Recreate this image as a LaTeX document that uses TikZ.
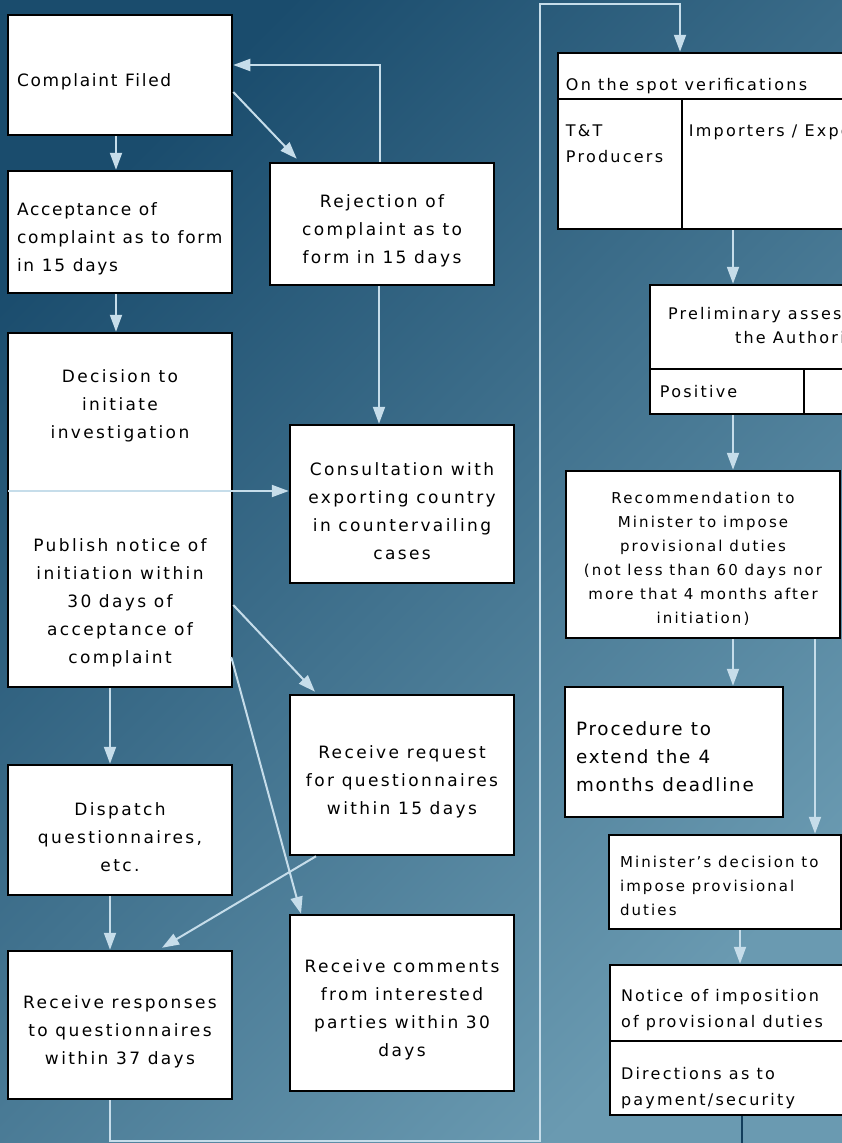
\documentclass[tikz,border=0pt]{standalone}
\usepackage{fontspec}
\setmainfont{DejaVu Sans}[LetterSpace=14]
\newfontfamily\plainfont{DejaVu Sans}[LetterSpace=10]
\usepackage{xcolor}
\usetikzlibrary{arrows.meta}
\definecolor{bgdark}{HTML}{1A4C6D}
\definecolor{bgmid}{HTML}{3D7292}
\definecolor{bglight}{HTML}{6A9AB1}
\definecolor{flow}{HTML}{C6DDEA}
\definecolor{navy}{HTML}{123E5C}
\newcommand{\bodysize}{\fontsize{17}{28}\selectfont}
\newcommand{\smallsize}{\fontsize{15}{24}\selectfont}
\newcommand{\cellsize}{\fontsize{16}{26}\selectfont}
\newcommand{\bigsize}{\plainfont\fontsize{18.3}{28}\selectfont}
\tikzset{sink/.style={execute at begin node={\spaceskip=.45em\relax\rule{0pt}{#1}}}, sink/.default=0pt}
\tikzstyle{box} = [rectangle, draw=black, line width=2.5pt, fill=white, inner xsep=10pt, inner ysep=0pt]
\tikzstyle{stepl} = [box, minimum width=224pt, inner xsep=9pt, text width=206pt, align=left, font=\plainfont\bodysize, sink=27pt]
\tikzstyle{stepc} = [box, minimum width=224pt, inner xsep=5pt, text width=214pt, align=center, font=\bodysize, sink=27pt]
\tikzstyle{cell} = [box, inner sep=0pt]
\tikzstyle{celltext} = [inner sep=0pt, text width=250pt, align=left, font=\cellsize, sink]
\tikzstyle{arrow} = [draw=flow, line width=2pt, -{Triangle[length=17pt,width=12pt]}]

\begin{document}
\begin{tikzpicture}[x=1pt, y=-1pt]
    \useasboundingbox (0,0) rectangle (841,1143);
    \clip (-3,-3) rectangle (844,1146);
    % Background
    \shade[top color=bgdark, middle color=bgmid, bottom color=bglight, shading angle=45] (-3,-3) rectangle (844,1146);

    % Left column
    \node (cf) [stepl, minimum height=120pt, sink=15pt] at (120,75) {Complaint Filed};
    \node (acc) [stepl, minimum height=122pt] at (120,232) {Acceptance of\\complaint as to form\\in 15 days};
    \node (inv) [box, minimum width=224pt, minimum height=354pt] at (120,510) {};
    \node (dec) [inner sep=0pt, text width=214pt, align=center, font=\bodysize, sink] at (120,406) {Decision to\\initiate\\investigation};
    \node (pub) [inner sep=0pt, text width=214pt, align=center, font=\bodysize, sink] at (120,603) {Publish notice of\\initiation within\\30 days of\\acceptance of\\complaint};
    \node (disp) [stepc, minimum height=130pt] at (120,830) {Dispatch\\questionnaires,\\etc.};
    \node (resp) [stepc, minimum height=148pt] at (120,1025) {Receive responses\\to questionnaires\\within 37 days};

    % Middle column
    \node (rej) [stepc, minimum height=122pt] at (382,224) {Rejection of\\complaint as to\\form in 15 days};
    \node (cons) [stepc, minimum height=158pt, sink=15pt] at (402,504) {Consultation with\\exporting country\\in countervailing\\cases};
    \node (req) [stepc, minimum height=160pt] at (402,775) {Receive request\\for questionnaires\\within 15 days};
    \node (com) [stepc, minimum height=176pt] at (402,1003) {Receive comments\\from interested\\parties within 30\\days};

    % Right column
    \node (spothead) [cell, minimum width=392pt, minimum height=46pt] at (754,76) {};
    \node (spottxt) [celltext, anchor=west] at ([xshift=9pt, yshift=-10pt]spothead.west) {On the spot verifications};
    \node (tt) [cell, minimum width=124pt, minimum height=130pt] at (620,164) {};
    \node (tttxt) [celltext, text width=110pt, anchor=north west] at ([xshift=9pt, yshift=-27pt]tt.north west) {T\&T\\Producers};
    \node (imp) [cell, minimum width=268pt, minimum height=130pt] at (816,164) {};
    \node (imptxt) [celltext, anchor=north west] at ([xshift=8pt, yshift=-27pt]imp.north west) {Importers / Exporters};

    \node (pre) [box, minimum width=300pt, minimum height=84pt, text width=290pt, inner xsep=5pt, align=center, font=\fontsize{16}{24}\selectfont, sink] at (800,327) {Preliminary assessment by\\the Authority};
    \node (pos) [cell, minimum width=154pt, minimum height=45pt] at (727,391.5) {};
    \node (postxt) [celltext, text width=130pt, anchor=west] at ([xshift=11pt]pos.west) {Positive};
    \node (neg) [cell, minimum width=146pt, minimum height=45pt] at (877,391.5) {};

    \node (rec) [box, minimum width=274pt, minimum height=167pt, inner xsep=5pt, text width=264pt, align=center, font=\smallsize, sink=19.5pt] at (703,554.5) {Recommendation to\\Minister to impose\\provisional duties\\(not less than 60 days nor\\more that 4 months after\\initiation)};
    \node (proc) [box, minimum width=216pt, minimum height=130pt, text width=196pt, inner xsep=11pt, align=left, font=\bigsize, sink=22.5pt] at (674,752) {Procedure to\\extend the 4\\months deadline};
    \node (mins) [box, minimum width=230pt, minimum height=94pt, text width=210pt, inner xsep=11pt, align=left, font=\smallsize, sink=19.5pt] at (725,882) {Minister's decision to\\impose provisional\\duties};
    \node (note) [box, minimum width=340pt, minimum height=76pt, text width=318pt, inner xsep=11pt, align=left, font=\cellsize, sink=26pt] at (780,1003) {Notice of imposition\\of provisional duties};
    \node (dir) [box, minimum width=340pt, minimum height=74pt, text width=318pt, inner xsep=11pt, align=left, font=\cellsize, sink=32pt] at (780,1078) {Directions as to\\payment/security};

    % Route coordinates
    \coordinate (split) at (8,491);
    \coordinate (loopA) at (540,1141);
    \coordinate (loopB) at (680,4);
    \coordinate (colR) at (733,0);
    \coordinate (colM) at (815,0);
    \coordinate (offpage) at (742,1150);

    % Arrows
    \draw [arrow] ([xshift=-4pt]cf.south) -- ([xshift=-4pt]acc.north);
    \draw [arrow] ([yshift=-17pt]cf.east) -- ([xshift=28pt, yshift=3pt]rej.north west);
    \draw [arrow] ([xshift=-2pt]rej.north) |- ([yshift=10pt]cf.east);
    \draw [arrow] ([xshift=-3pt]rej.south) -- ([xshift=-3pt]rej.south |- cons.north);
    \draw [arrow] ([xshift=-4pt]acc.south) -- ([xshift=-4pt]inv.north);
    \draw [arrow] (split) -- (split -| cons.west);
    \draw [arrow] ([yshift=-95pt]inv.east) -- ([xshift=-87pt, yshift=2pt]req.north);
    \draw [arrow] ([xshift=-2pt, yshift=-147pt]inv.east) -- ([xshift=-101pt]com.north);
    \draw [arrow] ([xshift=-10pt]inv.south) -- ([xshift=-10pt]disp.north);
    \draw [arrow] ([xshift=-10pt]disp.south) -- ([xshift=-10pt]resp.north);
    \draw [arrow] ([xshift=-86pt]req.south) -- ([xshift=42pt, yshift=2pt]resp.north);
    \draw [arrow] ([xshift=-10pt]resp.south) |- (loopA) |- (loopB) -- (loopB |- spothead.north);

    \draw [arrow] (imp.south -| colR) -- (pre.north -| colR);
    \draw [arrow] (pos.south -| colR) -- (rec.north -| colR);
    \draw [arrow] (rec.south -| colR) -- (proc.north -| colR);
    \draw [arrow] (rec.south -| colM) -- (mins.north -| colM);
    \draw [arrow] ([xshift=15pt]mins.south) -- ([xshift=15pt]mins.south |- note.north);
    \draw [navy, line width=2pt] (dir.south -| offpage) -- (offpage);
\end{tikzpicture}
\end{document}
